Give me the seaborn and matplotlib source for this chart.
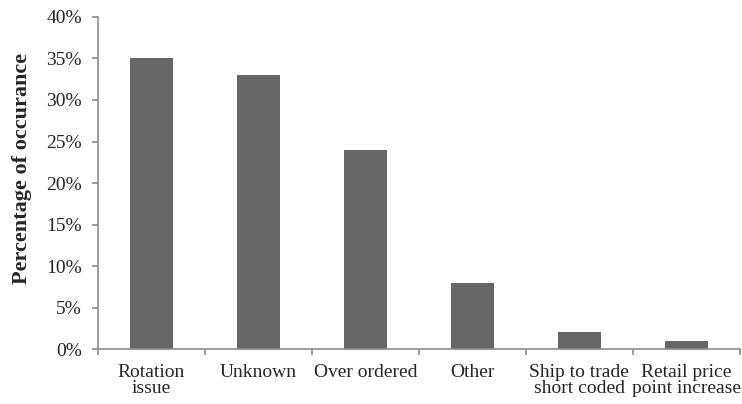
import matplotlib
matplotlib.use("Agg")
import matplotlib.pyplot as plt
from matplotlib.ticker import FuncFormatter, MultipleLocator
import seaborn as sns
import pandas as pd

categories = ["Rotation\nissue", "Unknown", "Over ordered", "Other",
              "Ship to trade\nshort coded", "Retail price\npoint increase"]
percentages = [35, 33, 24, 8, 2, 1]

sns.set_theme(style="white")
plt.rcParams["font.family"] = ["Liberation Serif", "DejaVu Serif"]

df = pd.DataFrame({"cause": categories, "pct": [v / 100 for v in percentages]})

fig = plt.figure(figsize=(7.42, 4.04), dpi=100)
ax = fig.add_axes([0.132, 0.136, 0.865, 0.822])

sns.barplot(data=df, x="cause", y="pct", color="#666666", width=0.4,
            saturation=1, ax=ax, edgecolor="none")

axis_color = "#8c8c8c"
ax.set_xlim(-0.5, len(categories) - 0.5)
ax.set_ylim(0, 0.40)
ax.yaxis.set_major_locator(MultipleLocator(0.05))
ax.yaxis.set_major_formatter(FuncFormatter(lambda v, _: f"{round(v * 100)}%"))

for side in ("top", "right"):
    ax.spines[side].set_visible(False)
for side in ("left", "bottom"):
    ax.spines[side].set_color(axis_color)
    ax.spines[side].set_linewidth(1.2)

ax.tick_params(axis="y", which="major", direction="out", length=4.5, width=1.2,
               color=axis_color, labelsize=14, pad=7, left=True)
ax.tick_params(axis="x", which="major", length=0, labelsize=14, pad=10.5)
ax.set_xticks([i - 0.5 for i in range(len(categories) + 1)], minor=True)
ax.tick_params(axis="x", which="minor", direction="out", length=4, width=1.2,
               color=axis_color, bottom=True)

for lbl in ax.get_xticklabels():
    lbl.set_linespacing(0.95)

ax.set_xlabel("")
ax.set_ylabel("Percentage of occurance", fontsize=16, fontweight="bold")
ax.yaxis.set_label_coords(-0.103, 0.545)

fig.savefig("out.png", dpi=100)
